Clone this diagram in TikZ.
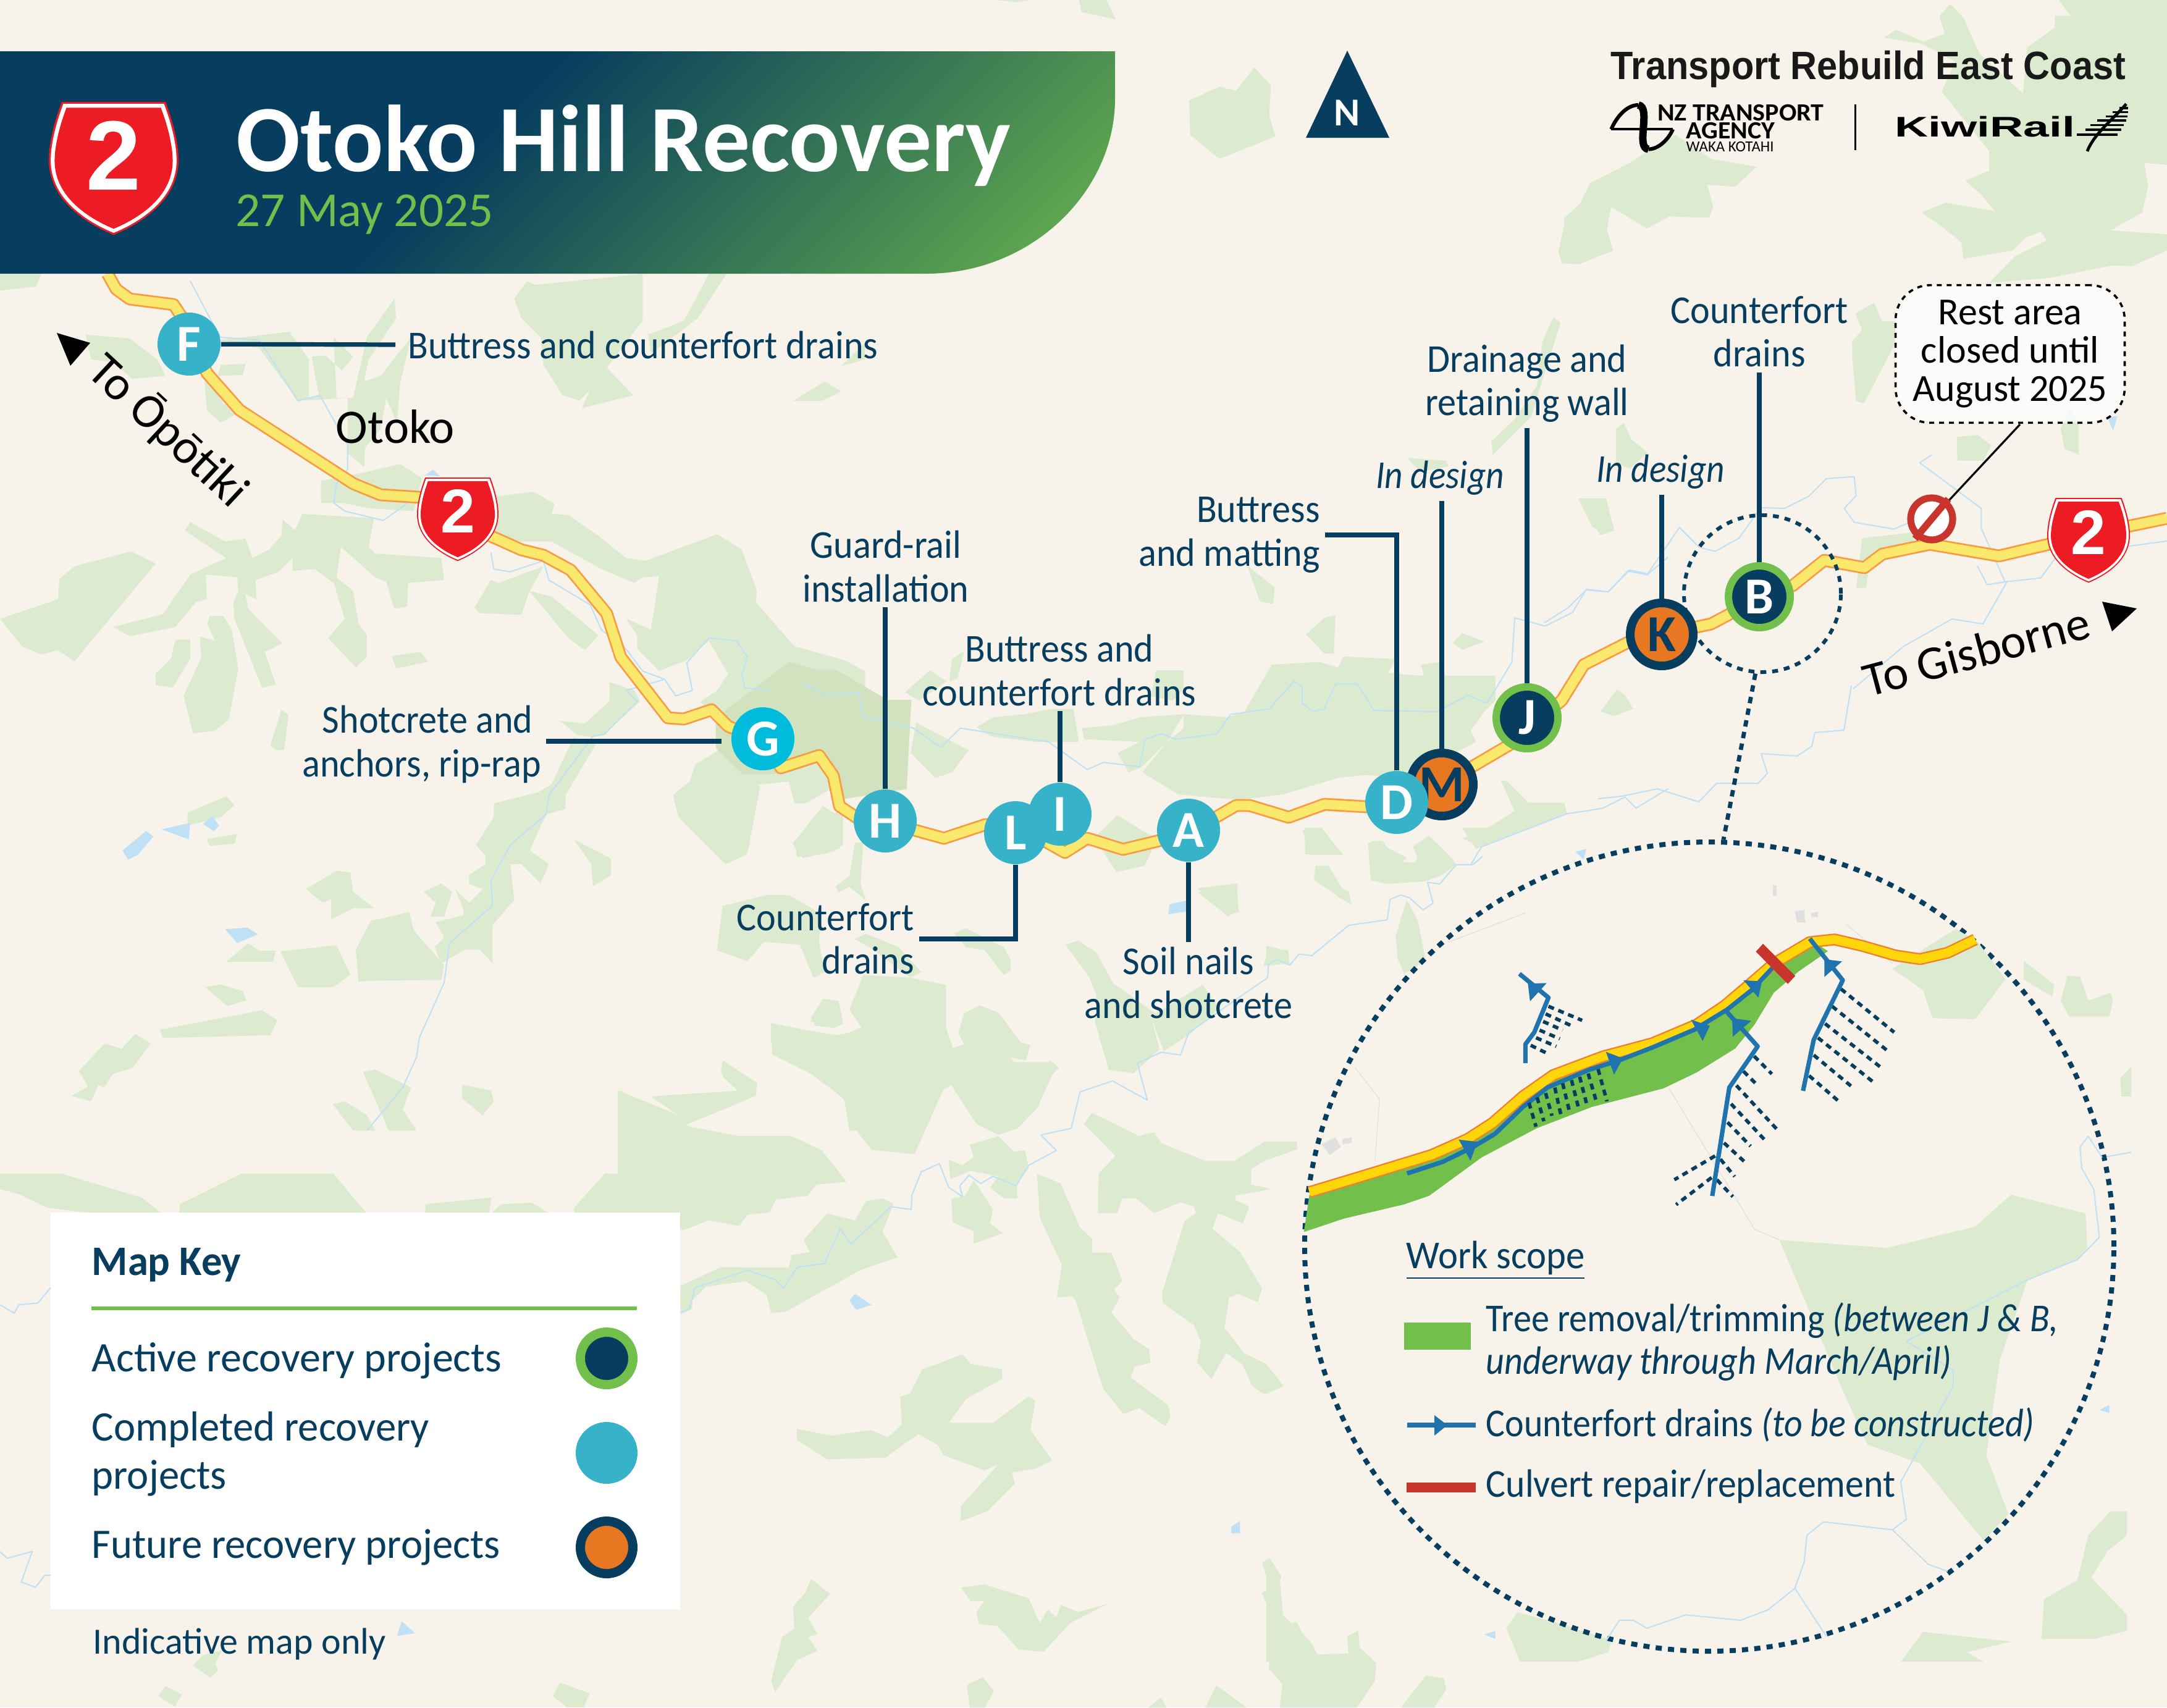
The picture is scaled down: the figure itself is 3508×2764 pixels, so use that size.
\documentclass[tikz,border=0pt]{standalone}
\usepackage{fontspec}
\setmainfont{Carlito}
\newfontfamily\logofont{Liberation Sans}
\usetikzlibrary{positioning}
\definecolor{paper}{HTML}{F7F3EB}
\definecolor{bushgreen}{HTML}{DCEBD0}
\definecolor{bushdark}{HTML}{D2E2BF}
\definecolor{creekblue}{HTML}{BFE0F5}
\definecolor{inknavy}{HTML}{073D5E}
\definecolor{doneteal}{HTML}{36B2C9}
\definecolor{gcyan}{HTML}{00BCDC}
\definecolor{activegreen}{HTML}{72BF4B}
\definecolor{futureorange}{HTML}{E87722}
\definecolor{shieldred}{HTML}{ED1C24}
\definecolor{culvertred}{HTML}{C8352D}
\definecolor{drainblue}{HTML}{1F74AE}
\definecolor{roadedge}{HTML}{F89B45}
\definecolor{roadfill}{HTML}{FBE96E}
\definecolor{insetedge}{HTML}{F07F2E}
\definecolor{insetfill}{HTML}{FFD60A}
\pgfdeclarehorizontalshading{headshade}{100bp}{color(0bp)=(inknavy);color(44.7bp)=(inknavy);color(88.6bp)=(activegreen);color(100bp)=(activegreen)}
\newcommand{\bush}[1]{\fill[bushgreen] plot coordinates {#1} -- cycle;}
\newcommand{\lake}[1]{\fill[creekblue] plot coordinates {#1} -- cycle;}
\newcommand{\creek}[1]{\draw[creekblue,line width=.5pt,line join=round] plot coordinates {#1};}
\newcommand{\shieldpath}{(-80,-100) -- (80,-100) .. controls (95,-60) and (100,-30) .. (100,-10) .. controls (100,48) and (48,85) .. (0,105) .. controls (-48,85) and (-100,48) .. (-100,-10) .. controls (-100,-30) and (-95,-60) .. (-80,-100) -- cycle}
\tikzset{
  viewA/.style={shift={(0,430)},scale=.893},
  viewB/.style={shift={(1000,1364)},scale=.893},
  viewC/.style={shift={(1300,0)},scale=.893},
  viewD/.style={shift={(2500,0)},scale=.643},
  viewE/.style={shift={(400,750)},xscale=1.084,yscale=.606},
  viewF/.style={shift={(0,1900)},xscale=.765,yscale=.551},
  viewG/.style={shift={(2050,1340)},xscale=.893,yscale=.861},
  viewH/.style={shift={(2300,1450)},xscale=.574,yscale=.351},
  viewL/.style={shift={(2600,150)},xscale=.5485,yscale=.333},
  shieldsign/.pic={
    \fill[shieldred] \shieldpath;
    \fill[white,scale=.97] \shieldpath;
    \fill[shieldred,scale=.91] \shieldpath;
    \node[transform shape,text=white,font=\logofont\bfseries\fontsize{38}{38}\selectfont] (-num) at (0,-17) {2};
  },
  stop/.style={circle,inner sep=0pt,font=\bfseries\fontsize{21}{21}\selectfont},
  stopdone/.style={stop,fill=doneteal,minimum size=25.5pt,text=white},
  stopactive/.style={stop,fill=inknavy,draw=activegreen,line width=3pt,minimum size=25pt,text=white},
  stopfuture/.style={stop,fill=futureorange,draw=inknavy,line width=3.5pt,minimum size=25.5pt,text=inknavy},
  maplabel/.style={text=inknavy,font=\fontsize{16}{17.6}\selectfont,align=center,inner sep=2pt,xscale=.94},
  placelabel/.style={text=black,font=\fontsize{19.5}{21}\selectfont,inner sep=0pt},
  leader/.style={draw=inknavy,line width=1.8pt},
  keytext/.style={text=inknavy,font=\fontsize{17}{19.5}\selectfont,align=left,anchor=west,inner sep=0pt,xscale=.98},
  scopetext/.style={text=inknavy,font=\fontsize{16}{17.2}\selectfont,align=left,anchor=west,inner sep=0pt,xscale=.92},
  keydot/.style={circle,inner sep=0pt},
  drain/.style={draw=drainblue,line width=1.8pt,line join=round},
  hatch/.style={draw=inknavy,line width=1.4pt,dash pattern=on 2.4pt off 1.9pt},
  road/.style={draw=roadedge,double=roadfill,double distance=3.8pt,line width=.7pt,line join=round},
  insetroad/.style={draw=insetedge,double=insetfill,double distance=3.6pt,line width=.6pt,line join=round}
}
\begin{document}
\begin{tikzpicture}[x=.25pt,y=-.25pt]
\useasboundingbox (0,0) rectangle (3508,2764);
\fill[paper] (0,0) rectangle (3508,2764);

% bush cover, left and centre
\begin{scope}[viewA]
\bush{(0,640) (105,605) (108,568) (135,545) (238,518) (282,540) (135,717) (105,697) (75,705) (40,690)}
\bush{(335,480) (345,465) (408,500) (445,495) (458,530) (487,515) (510,490) (512,460) (535,480) (548,450) (678,458) (668,510) (680,522) (800,530) (805,570) (740,575) (738,618) (715,622) (700,573) (680,565) (618,510) (610,565) (640,590) (650,650) (665,670) (665,710) (645,728) (595,675) (625,640) (605,575) (570,550) (530,553) (530,530) (505,555) (463,570) (465,605) (445,595) (450,622) (512,685) (480,700) (500,760) (475,765) (425,640) (423,610) (432,590) (430,565) (373,560) (375,605) (355,610) (318,655) (235,672) (205,655) (295,632) (345,560) (410,530)}
\bush{(380,635) (405,635) (420,660) (432,730) (415,822) (390,843) (350,848) (333,780) (365,710) (362,672) (390,680) (376,650)}
\bush{(318,678) (345,678) (345,712) (313,765) (282,760) (282,740) (310,712)}
\bush{(710,708) (762,700) (776,718) (718,730)}
\bush{(0,15) (75,15) (65,38) (0,45)}
\bush{(155,125) (235,132) (285,170) (300,200) (240,205) (205,175) (165,170)}
\bush{(400,180) (445,178) (440,198) (395,200)}
\bush{(370,200) (405,250) (435,265) (400,285) (375,262)}
\bush{(395,135) (525,120) (560,170) (560,240) (578,235) (565,165) (590,163) (620,190) (640,165) (605,130) (610,240) (640,240) (665,130) (715,60) (718,95) (668,170) (660,210) (690,200) (745,130) (725,215) (720,285) (700,240) (690,295) (662,330) (660,365) (630,340) (630,240) (540,245) (470,150)}
\bush{(932,60) (955,28) (970,35) (1165,15) (1165,100) (1100,185) (1148,235) (1055,258) (1070,225) (1050,245) (1020,235) (985,180) (980,130) (945,95)}
\bush{(1175,125) (1240,100) (1285,15) (1317,15) (1265,95) (1180,160)}
\bush{(1438,245) (1495,210) (1525,228) (1490,245)}
\bush{(1525,182) (1568,140) (1568,170)}
\bush{(885,420) (968,410) (1005,432) (1000,450) (1030,452) (1085,490) (1135,530) (1170,535) (1300,487) (1345,515) (1372,590) (1370,610) (1440,690) (1530,715) (1568,735) (1568,960) (1520,940) (1460,975) (1440,975) (1430,935) (1340,945) (1290,955) (1260,905) (1300,880) (1310,840) (1270,790) (1300,770) (1320,740) (1285,680) (1245,715) (1195,735) (1155,695) (1155,670) (1135,640) (1180,660) (1195,563) (1165,565) (1150,575) (1090,550) (1000,500) (950,500) (905,500) (885,470)}
\bush{(582,390) (610,385) (660,375) (725,360) (765,385) (750,445) (670,440) (620,430) (582,430)}
\bush{(960,590) (1000,600) (1085,670) (1060,697) (1030,675)}
\bush{(860,620) (890,570) (905,575) (985,545) (960,590) (945,633) (870,630)}
\bush{(1105,755) (1150,770) (1160,790) (1095,850) (1075,855) (1045,850) (1015,825) (1060,830) (1105,790)}
\bush{(1000,940) (1040,855) (1080,868) (1025,960) (1025,985) (990,995) (960,1060) (995,1085) (980,1120) (945,1085) (925,1085) (932,1150) (893,1195) (893,1265) (870,1240) (842,1240) (800,1265) (788,1235) (805,1218) (790,1190) (840,1178) (840,1165) (825,1130) (850,1155) (875,1130) (850,1120) (850,1105) (880,1085) (880,1070) (863,1050) (895,1000) (895,975) (975,955)}
\bush{(340,992) (410,962) (425,978) (400,1000) (340,1015)}
\bush{(375,1040) (430,1030) (425,1048) (380,1052)}
\bush{(490,870) (510,805) (523,815) (515,878) (500,878)}
\bush{(555,1130) (610,1097) (635,1100) (640,1135) (678,1165) (640,1165) (600,1185) (600,1148) (585,1155)}
\bush{(768,1135) (800,1120) (820,1135) (805,1180) (780,1180) (790,1155)}
\bush{(1040,1040) (1108,1075) (1108,1105) (1075,1125) (1072,1085)}
\bush{(410,1262) (450,1228) (470,1242) (500,1242) (495,1262)}
\bush{(508,1243) (610,1232) (635,1285) (605,1308) (540,1308)}
\bush{(645,1240) (672,1188) (742,1172) (750,1205) (805,1268) (800,1295) (680,1296) (650,1298)}
\bush{(372,1308) (400,1303) (440,1315) (447,1332) (412,1342)}
\bush{(290,1385) (475,1350) (503,1368) (490,1395) (295,1400)}
\bush{(143,1460) (190,1410) (220,1420) (245,1393) (273,1410) (240,1455) (205,1465) (188,1490) (178,1485) (165,1515) (130,1505) (160,1488)}
\bush{(603,1520) (625,1515) (665,1540) (680,1568) (640,1568)}
\bush{(658,1462) (680,1457) (745,1490) (730,1530) (755,1568) (705,1568)}
\bush{(838,1485) (890,1495) (895,1515) (875,1540) (838,1510)}
\bush{(1120,1568) (1125,1497) (1230,1540) (1340,1498) (1310,1470) (1312,1442) (1372,1485) (1370,1505) (1250,1555) (1200,1568)}
\bush{(1398,1375) (1518,1395) (1568,1385) (1568,1568) (1540,1568) (1530,1510) (1470,1465) (1400,1430)}
\bush{(1470,1370) (1490,1332) (1520,1335) (1528,1375) (1510,1382)}
\bush{(1220,960) (1250,935) (1260,905) (1315,875) (1325,905) (1378,945) (1355,1065) (1315,1085) (1230,1000)}
\bush{(1440,1045) (1500,1000) (1528,985) (1528,1050) (1500,1065) (1445,1072)}
\lake{(222,1060) (265,1025) (278,1035) (250,1068) (232,1077)}
\lake{(293,1022) (345,1010) (342,1040)}
\lake{(368,1012) (385,998) (397,1015) (388,1025)}
\lake{(408,1203) (448,1200) (468,1212) (430,1228)}
\lake{(770,380) (785,370) (798,382)}
\end{scope}
\begin{scope}[viewB]
\bush{(60,460) (215,450) (218,440) (187,418) (190,395) (252,435) (250,450) (130,508)}
\bush{(0,450) (5,450) (130,515) (220,532) (315,532) (370,558) (415,615) (360,620) (345,640) (287,647) (275,670) (235,675) (220,695) (165,685) (120,702) (113,702) (113,672) (0,672)}
\bush{(278,327) (400,352) (442,335) (420,303) (445,240) (530,245) (595,258) (595,335) (608,373) (628,365) (617,345) (628,310) (655,295) (690,308) (730,362) (748,367) (740,395) (712,390) (718,398) (780,398) (785,395) (800,408) (788,420) (760,482) (725,518) (690,530) (650,510) (605,440) (590,448) (538,565) (460,557) (420,505) (415,470) (350,412) (290,385) (278,362)}
\bush{(350,318) (372,283) (400,287) (408,322) (388,335) (358,332)}
\bush{(812,185) (835,178) (868,200) (898,255) (975,310) (1060,258) (1090,300) (1040,345) (990,378) (968,320) (982,375) (935,418) (890,412) (865,325) (868,278) (855,245)}
\bush{(1052,90) (1125,75) (1115,100) (1128,125) (1105,133)}
\bush{(845,510) (860,490) (945,532) (972,525) (985,545) (1065,577) (1118,577) (1173,542) (1230,542) (1232,555) (1195,562) (1148,592) (1148,620) (1185,628) (1120,640) (1120,648) (1145,660) (1133,690) (1088,672) (1078,700) (1128,742) (1168,808) (1160,833) (1125,818) (1108,825) (1100,880) (1135,925) (1175,945) (1207,985) (1172,1000) (1150,985) (1132,945) (1103,925) (1076,972) (1050,942) (1057,905) (1045,875) (988,835) (987,815) (1028,685) (1048,672) (1045,660) (1020,652) (972,672) (940,645) (915,645) (905,672) (870,672) (872,600) (902,568)}
\bush{(760,600) (803,618) (838,698) (860,718) (860,743) (895,743) (915,795) (900,810) (910,825) (895,852) (935,900) (963,918) (966,943) (937,950) (930,970) (998,1020) (1002,1040) (993,1058) (945,1025) (917,1036) (880,990) (830,830) (823,822) (796,825) (805,765) (765,680)}
\bush{(325,1063) (388,1075) (458,1065) (490,1078) (515,1055) (512,1005) (530,998) (552,955) (625,928) (640,945) (697,955) (697,972) (632,1008) (600,1052) (680,1052) (745,1004) (757,1012) (748,1065) (788,1120) (757,1135) (715,1142) (720,1162) (670,1212) (622,1230) (622,1203) (690,1127) (665,1138) (590,1110) (580,1092) (545,1072) (485,1115) (380,1118) (325,1083)}
\bush{(115,805) (190,770) (310,770) (315,748) (348,742) (337,720) (380,672) (430,685) (450,650) (480,645) (500,655) (480,705) (507,752) (440,775) (305,850) (278,853) (270,820) (232,795) (160,805) (135,830) (135,845) (115,855)}
\bush{(600,575) (625,585) (645,570) (638,548) (690,532) (718,560) (738,558) (745,590) (723,620) (725,645) (700,645) (675,625) (690,605) (640,595) (603,610)}
\bush{(605,645) (630,640) (645,612) (680,665) (675,690) (698,708) (645,727) (645,705) (607,688)}
\bush{(1360,0) (1390,0) (1392,20) (1412,38) (1445,38) (1465,15) (1450,0) (1485,0) (1520,40) (1492,60) (1465,70) (1395,75) (1365,68)}
\bush{(1265,42) (1285,42) (1305,80) (1325,88) (1330,113) (1262,68)}
\bush{(1410,170) (1430,105) (1450,140) (1465,215) (1430,235) (1415,215)}
\bush{(1180,192) (1215,195) (1218,220) (1190,210) (1170,225)}
\bush{(160,0) (240,0) (232,22) (198,38)}
\bush{(320,0) (400,0) (395,15) (335,28)}
\bush{(1245,0) (1275,0) (1315,22) (1255,22)}
\bush{(395,80) (420,60) (430,0) (445,0) (440,75) (450,105) (420,80) (400,90)}
\bush{(180,195) (190,115) (270,95) (310,95) (370,130) (365,180) (375,235) (355,245) (330,185) (265,180) (235,215)}
\bush{(610,165) (630,155) (700,190) (712,212) (712,232) (700,240) (665,195) (632,190)}
\bush{(430,175) (450,165) (510,190) (550,235) (530,245) (465,195)}
\bush{(622,1350) (665,1345) (745,1370) (765,1415) (780,1390) (795,1405) (803,1382) (835,1395) (888,1380) (820,1415) (772,1467) (727,1463) (688,1420) (655,1417) (650,1395) (665,1375) (640,1375)}
\bush{(318,1385) (340,1360) (350,1335) (385,1362) (345,1405) (362,1435) (345,1440) (362,1465) (325,1482) (285,1540) (278,1520) (298,1440) (320,1425)}
\bush{(633,1527) (662,1513) (682,1538) (665,1568) (638,1568)}
\bush{(1168,1305) (1182,1297) (1203,1330) (1195,1355) (1195,1395) (1215,1420) (1230,1412) (1262,1472) (1325,1470) (1322,1440) (1342,1428) (1345,1460) (1375,1487) (1372,1520) (1340,1568) (1200,1568) (1205,1525) (1180,1497) (1190,1415) (1168,1360) (1182,1352)}
\bush{(1420,1568) (1465,1510) (1497,1515) (1502,1535) (1480,1568)}
\bush{(1065,1568) (1085,1528) (1140,1568)}
\bush{(962,1568) (985,1550) (995,1568)}
\lake{(1000,112) (1032,105) (1030,125) (998,130)}
\lake{(420,830) (430,818) (460,838) (432,847)}
\lake{(1112,1240) (1128,1230) (1128,1252) (1112,1252)}
\end{scope}

% bush cover, top and right
\begin{scope}[viewC]
\bush{(500,0) (550,0) (567,35) (505,22)}
\bush{(350,0) (410,0) (385,4)}
\bush{(700,182) (755,157) (785,165) (818,122) (848,155) (845,210) (856,247) (755,288) (702,245)}
\bush{(1378,470) (1380,395) (1420,360) (1430,330) (1510,290) (1568,255) (1568,390) (1530,412) (1465,375) (1455,420) (1468,455) (1410,475)}
\bush{(1340,620) (1360,575) (1373,585) (1340,690) (1320,755) (1250,825) (1248,800) (1290,760) (1330,700)}
\bush{(1408,905) (1455,905) (1470,962) (1445,970)}
\bush{(1095,830) (1165,835) (1170,845) (1120,855)}
\bush{(805,1025) (855,1065) (852,1095) (828,1090)}
\bush{(1445,1290) (1475,1250) (1490,1260) (1505,1285) (1470,1298)}
\bush{(770,1300) (800,1290) (850,1205) (935,1200) (970,1210) (980,1190) (1075,1195) (1060,1220) (1120,1225) (1255,1225) (1255,1270) (1235,1290) (1210,1325) (1220,1345) (1095,1410) (1020,1405) (970,1410) (870,1440) (790,1450) (680,1440) (615,1400) (660,1345) (690,1320) (690,1295)}
\bush{(505,1320) (560,1315) (612,1300) (690,1295) (660,1345) (612,1392) (590,1400) (570,1365) (610,1345) (510,1340)}
\bush{(315,1318) (345,1300) (400,1295) (450,1285) (490,1285) (500,1345) (420,1345) (340,1335)}
\bush{(205,1310) (300,1360) (270,1400) (240,1410) (195,1365)}
\bush{(912,1150) (945,1120) (965,1115) (962,1185) (945,1185)}
\bush{(1178,1165) (1195,1148) (1235,1163) (1195,1178)}
\bush{(1120,1205) (1155,1200) (1160,1220) (1130,1240)}
\bush{(265,1235) (270,1195) (292,1180) (280,1230)}
\bush{(185,1255) (230,1215) (260,1235) (210,1270)}
\bush{(640,1215) (690,1215) (690,1250) (670,1270) (630,1262)}
\bush{(905,1505) (935,1505) (980,1550) (920,1550)}
\bush{(1265,1415) (1275,1415) (1315,1455) (1380,1455) (1385,1475) (1230,1535) (1195,1520) (1235,1505) (1290,1470)}
\bush{(1105,1535) (1135,1515) (1180,1560) (1170,1568) (1120,1568)}
\bush{(1032,1525) (1055,1535) (1095,1555) (1080,1568) (1030,1568)}
\end{scope}
\begin{scope}[viewD]
\bush{(35,635) (55,545) (90,512) (115,462) (225,405) (265,375) (330,340) (420,400) (535,420) (480,470) (410,465) (425,520) (415,548) (315,545) (258,575) (167,520) (158,580) (173,630) (88,665) (45,663)}
\bush{(855,95) (885,75) (955,105) (1008,85) (995,40) (1022,10) (1055,45) (1095,135) (1205,235) (1215,120) (1285,70) (1285,40) (1325,40) (1295,0) (1568,0) (1568,415) (1510,410) (1520,470) (1505,535) (1425,580) (1368,520) (1450,445) (1460,380) (1120,380) (1000,230) (1035,155) (950,110)}
\bush{(1120,380) (1120,430) (1060,455) (1100,490) (1150,550) (1210,545) (1010,510) (950,535) (1000,570) (1050,610) (1055,652) (1180,630) (1212,598) (1250,583) (1265,605) (1185,645) (1120,712) (1270,700) (1430,668) (1480,670) (1568,630) (1568,590) (1425,580) (1368,520) (1450,445) (1460,380)}
\bush{(783,790) (830,762) (850,808) (885,810) (880,870) (805,1015) (785,1010) (775,895) (775,860) (800,830)}
\bush{(1038,1100) (1090,1095) (1125,1120) (1105,1160) (1040,1160)}
\bush{(1300,1080) (1320,1030) (1345,1060) (1345,1145) (1310,1130)}
\bush{(85,1255) (155,1255) (175,1330) (150,1345) (120,1325)}
\bush{(180,1080) (200,1065) (218,1105) (260,1140) (215,1180) (180,1165)}
\bush{(800,1355) (930,1340) (930,1375) (820,1410) (810,1480) (785,1480)}
\lake{(1418,1050) (1442,1048) (1432,1085)}
\end{scope}
\begin{scope}[viewE]
\bush{(1265,1000) (1300,940) (1340,985) (1360,1000) (1340,1075) (1298,1092)}
\bush{(815,1015) (860,915) (890,950) (885,1030) (825,1050)}
\bush{(1420,1135) (1478,1122) (1480,1190) (1465,1210)}
\fill[bushdark] plot coordinates {(700,680) (810,530) (850,552) (880,552) (945,620) (955,632) (992,632) (985,870) (880,900) (870,790) (800,830) (740,830) (700,760)} -- cycle;
\end{scope}
\begin{scope}[viewF]
\bush{(0,0) (130,0) (300,70) (340,115) (190,115) (100,100) (40,60) (0,45)}
\bush{(380,90) (510,0) (705,0) (775,115) (380,115)}
\bush{(900,90) (1040,70) (1035,115) (900,115)}
\bush{(1060,90) (1125,85) (1160,115) (1040,115)}
\bush{(1215,100) (1280,0) (1568,0) (1568,150) (1500,135) (1445,165) (1440,115) (1215,115)}
\bush{(1440,330) (1525,275) (1568,275) (1568,320) (1505,320) (1470,345) (1440,410)}
\bush{(408,1445) (430,1415) (470,1400) (455,1440) (462,1460) (445,1480)}
\bush{(335,1535) (350,1505) (385,1530) (370,1565)}
\bush{(1170,1535) (1185,1495) (1248,1527) (1235,1568) (1200,1568)}
\lake{(840,1358) (850,1315) (878,1350)}
\creek{(0,385) (30,410) (40,385) (80,380) (107,335)}
\creek{(0,1110) (15,1130) (68,1110) (45,1200) (75,1215) (95,1180) (107,1180)}
\end{scope}
\begin{scope}[viewG]
\bush{(1373,250) (1428,295) (1425,318) (1373,285)}
\bush{(1440,325) (1452,278) (1475,280) (1490,325) (1530,310) (1535,325) (1528,355) (1455,355)}
\bush{(1548,470) (1568,450) (1568,505) (1550,505)}
\bush{(1405,1525) (1410,1450) (1470,1415) (1490,1330) (1530,1285) (1560,1285) (1560,1330) (1525,1360) (1495,1410) (1560,1480) (1560,1510) (1500,1525)}
\bush{(1150,1568) (1190,1512) (1350,1530) (1270,1550) (1300,1568)}
\bush{(435,1505) (455,1475) (600,1515) (625,1530) (620,1550) (565,1568) (460,1568)}
\bush{(280,1320) (385,1370) (388,1400) (350,1390)}
\bush{(0,1010) (30,1050) (0,1065)}
\bush{(0,1375) (25,1420) (30,1480) (80,1530) (100,1568) (0,1568)}
\bush{(190,25) (210,25) (240,65) (270,65) (295,15) (345,70) (290,95) (190,100)}
\bush{(70,0) (100,0) (138,50) (70,50)}
\bush{(90,75) (112,70) (155,145) (130,130)}
\bush{(0,625) (0,590) (55,590) (55,605)}
\bush{(235,205) (258,140) (285,245) (250,275) (238,245)}
\bush{(0,222) (40,232) (40,255) (0,260)}
\bush{(355,0) (470,0) (380,40)}
\lake{(395,1517) (415,1510) (415,1525)}
\lake{(1510,1095) (1528,1085) (1528,1100)}
\lake{(560,45) (580,40) (575,60)}
\creek{(1515,620) (1568,610)}
\end{scope}

% creeks
\begin{scope}[viewA]
\creek{(345,28) (375,85) (400,130) (470,135) (540,245) (580,235) (630,325) (630,370) (610,395) (605,430) (625,445) (695,462) (760,415)}
\creek{(890,520) (895,550) (925,555) (985,535) (995,570) (1070,615) (1090,660) (1135,695) (1165,735) (1205,750) (1225,780) (1255,770) (1245,720) (1285,675) (1335,680) (1355,710) (1345,740) (1350,765) (1395,770)}
\creek{(1205,750) (1135,770) (1155,790) (1095,850) (1075,853) (995,960) (990,995) (925,1050) (890,1115) (893,1160) (815,1228) (805,1300) (760,1400) (755,1435) (730,1490) (665,1568)}
\end{scope}
\begin{scope}[viewB]
\creek{(115,852) (130,845) (140,807) (235,775) (285,792) (300,808) (325,770) (375,763) (403,700) (423,728) (495,660) (532,665) (533,640) (550,597) (583,582) (600,625) (625,642) (620,622) (637,603) (658,618) (680,605) (722,622) (745,585) (795,558) (767,530) (822,518) (838,452) (897,432) (960,467) (942,400) (985,380) (1020,385) (1035,345) (1120,285) (1178,245) (1180,220) (1195,212) (1218,222) (1235,202) (1258,205) (1325,150) (1395,140) (1400,103) (1420,95) (1435,100) (1460,122) (1478,110) (1468,72) (1490,75) (1520,40) (1550,40) (1568,25)}
\end{scope}
\begin{scope}[viewC]
\creek{(0,1240) (40,1260) (100,1255) (110,1300) (200,1320) (250,1355) (285,1320) (445,1345) (515,1395) (545,1382) (610,1390) (620,1340) (650,1330) (675,1340) (750,1330) (775,1295) (845,1285) (890,1235) (905,1245) (905,1275) (925,1290) (945,1285) (965,1240) (1005,1240) (1035,1288) (1150,1290) (1205,1260) (1240,1275) (1285,1200) (1290,1120) (1345,1135) (1395,1110) (1420,1068) (1460,1073) (1495,1035) (1530,1042) (1568,1010)}
\creek{(1210,1568) (1230,1535) (1385,1475) (1420,1470) (1450,1465) (1490,1445) (1510,1465) (1568,1430)}
\end{scope}
\begin{scope}[viewD]
\creek{(0,1568) (60,1530) (105,1485) (160,1490) (215,1435) (260,1445) (340,1328) (390,1378) (430,1388) (490,1355) (545,1278) (605,1280) (665,1250) (710,1205) (780,1200) (785,1248) (755,1280) (780,1315) (880,1332) (920,1315)}
\creek{(975,1145) (945,1165) (1100,1280) (1100,1330) (1160,1465) (1115,1472) (1090,1425)}
\creek{(1160,1465) (1250,1455) (1290,1400)}
\creek{(1290,1400) (1568,1362)}
\end{scope}
\draw[creekblue,line width=.5pt] (3000,1115) -- (3082,1046) -- (3160,1002) -- (3210,1010) -- (3250,940);
\draw[creekblue,line width=.5pt] (2997,1110) -- (2985,1182) -- (2938,1186) -- (2933,1208) -- (2909,1224) -- (2851,1220) -- (2861,1252) -- (2846,1268) -- (2779,1268) -- (2750,1298) -- (2683,1277) -- (2625,1289) -- (2587,1293);

% road through the map
\draw[road] (174,443) -- (188,468) -- (210,484) -- (281,493) -- (304,528) -- (335,604) -- (388,664) -- (572,783) -- (616,801) -- (679,805) -- (795,868) -- (844,890) -- (880,899) -- (924,923) -- (982,993) -- (1005,1064) -- (1081,1162) -- (1107,1164) -- (1152,1149) -- (1179,1176) -- (1237,1198) -- (1264,1243) -- (1326,1223) -- (1349,1256) -- (1359,1305) -- (1398,1331) -- (1434,1331) -- (1528,1357) -- (1595,1335) -- (1644,1335) -- (1724,1380) -- (1760,1357) -- (1818,1375) -- (1872,1362) -- (1925,1348) -- (2001,1304) -- (2023,1304) -- (2086,1323) -- (2144,1302) -- (2211,1306) -- (2264,1299) -- (2334,1270) -- (2443,1206) -- (2472,1179) -- (2528,1134) -- (2564,1076) -- (2635,1040) -- (2691,1027) -- (2770,1010) -- (2849,968) -- (2902,948) -- (2953,907) -- (3018,919) -- (3047,897) -- (3124,881) -- (3236,900) -- (3317,881) -- (3381,868) -- (3445,852) -- (3508,839);

% header banner
\shade[shading=headshade,shading angle=-45] (0,83) -- (1805,83) -- (1805,160) .. controls (1805,310) and (1670,443) .. (1500,443) -- (0,443) -- cycle;
\pic[scale=1.05] (shieldTop) at (184,270) {shieldsign};
\node[text=white,font=\bfseries\fontsize{38.4}{38.4}\selectfont,anchor=west,inner sep=0pt] (title) at (382,236) {Otoko Hill Recovery};
\node[text=activegreen,font=\fontsize{19.8}{19.8}\selectfont,anchor=west,inner sep=0pt] (date) at (381,347) {27 May 2025};

% north arrow and credits
\fill[inknavy] (2181,82) -- (2249,223) -- (2114,223) -- cycle;
\node[text=white,font=\bfseries\fontsize{16}{16}\selectfont,inner sep=0pt] (north) at (2181,183) {N};
\node[text=black!90,font=\logofont\bfseries\fontsize{16}{16}\selectfont,anchor=east,inner sep=0pt,xscale=.93] (credit) at (3442,112) {Transport Rebuild East Coast};
\begin{scope}[viewL]
\draw[black,line width=.9pt] (15,178) -- (197,178);
\draw[black,line width=1.5pt] (15,178) .. controls (30,120) and (60,60) .. (95,60);
\draw[black,line width=3pt] (95,60) .. controls (135,70) and (85,270) .. (125,275);
\draw[black,line width=1.5pt] (125,275) .. controls (155,275) and (185,225) .. (197,178);
\node[anchor=west,inner sep=0pt,font=\bfseries\fontsize{10}{10}\selectfont,xscale=1.05] (ntaA) at (150,97) {NZ TRANSPORT};
\node[anchor=west,inner sep=0pt,font=\bfseries\fontsize{10}{10}\selectfont,xscale=1.05] (ntaB) at (235,185) {AGENCY};
\node[anchor=west,inner sep=0pt,font=\fontsize{6.2}{6.2}\selectfont] (ntaC) at (235,262) {WAKA KOTAHI};
\coordinate (splitA) at (735,58);
\coordinate (splitB) at (735,278);
\draw[black,line width=.7pt] (splitA) -- (splitB);
\node[anchor=west,inner sep=0pt,font=\logofont\bfseries\fontsize{11.5}{11.5}\selectfont,xscale=1.63] (kiwi) at (850,165) {KiwiRail};
\draw[black,line width=1.2pt] (1420,285) .. controls (1440,200) and (1490,140) .. (1535,55);
\foreach \ya/\xa/\xb in {205/1390/1510,180/1415/1520,158/1430/1528,135/1450/1535,115/1475/1538,95/1495/1540,75/1515/1540}
  \draw[black,line width=.9pt] (\xa,\ya) -- (\xb,\ya);
\end{scope}

% callouts on the map
\node[circle,minimum size=63.5pt,inner sep=0pt,draw=inknavy,line width=1.5pt,dash pattern=on 2.4pt off 2.4pt] (focus) at (2853,961) {};
\node[stopdone] (mF) at (306,557) {F};
\node[stop,fill=gcyan,minimum size=25.5pt,text=white] (mG) at (1235,1196) {G};
\node[stopdone] (mH) at (1433,1329) {H};
\node[stopdone] (mI) at (1716,1318) {I};
\node[stopdone] (mL) at (1644,1348) {L};
\node[stopdone] (mA) at (1924,1344) {A};
\node[stopfuture] (mM) at (2334,1270) {M};
\node[stopdone] (mD) at (2261,1299) {D};
\node[stopactive] (mJ) at (2472,1162) {J};
\node[stopfuture] (mK) at (2690,1027) {K};
\node[stopactive] (mB) at (2848,966) {B};

\node[maplabel,anchor=west] (lF) at (652,558) {Buttress and counterfort drains};
\node[maplabel] (lH) at (1434,917) {Guard-rail\\installation};
\node[maplabel] (lI) at (1715,1085) {Buttress and\\counterfort drains};
\node[maplabel,align=right,anchor=east] (lL) at (1488,1520) {Counterfort\\drains};
\node[maplabel] (lA) at (1924,1591) {Soil nails\\and shotcrete};
\node[maplabel,align=right,anchor=east] (lG) at (884,1205) {Shotcrete and\hspace*{3.5pt}\\anchors, rip-rap};
\node[maplabel,align=right,anchor=east] (lD) at (2145,866) {Buttress\\and matting};
\node[maplabel,font=\itshape\fontsize{16}{17.6}\selectfont,xscale=.952] (lM) at (2331,774) {In design};
\node[maplabel] (lJ) at (2472,621) {Drainage and\\retaining wall};
\node[maplabel,font=\itshape\fontsize{16}{17.6}\selectfont,xscale=.952] (lK) at (2688,764) {In design};
\node[maplabel] (lB) at (2848,537) {Counterfort\\drains};

\draw[leader,shorten >=3pt] (mF) -- (lF.west);
\draw[leader] (mH) -- (lH.south -| mH);
\draw[leader] (mI) -- (lI.south -| mI);
\draw[leader] (mL) |- (lL.east);
\draw[leader] (mA) -- (lA.north -| mA);
\draw[leader,shorten >=16.75pt] ([yshift=1.25pt]lG.east) -- ([yshift=1.25pt]lG.east -| mG);
\draw[leader] (lD.east) -| (mD);
\draw[leader] (mM) -- (lM.south -| mM);
\draw[leader] (mJ) -- (lJ.south -| mJ);
\draw[leader] (mK) -- (lK.south -| mK);
\draw[leader] (mB) -- (lB.south -| mB);

\node[placelabel] (otoko) at (640,691) {Otoko};
\node[placelabel,rotate=-43] (toWest) at (272,698) {To Ōpōtiki};
\fill[black] (92,539) -- (146,555) -- (114,592) -- cycle;
\node[placelabel,rotate=15] (toEast) at (3199,1054) {To Gisborne};
\fill[black] (3403,974) -- (3459,985) -- (3419,1022) -- cycle;
\pic[scale=.66] (shieldWest) at (741,839) {shieldsign};
\pic[scale=.67] (shieldEast) at (3381,873) {shieldsign};

% closed rest area
\node[rectangle,rounded corners=14pt,minimum width=92.7pt,minimum height=55.7pt,inner sep=0pt,draw=black,line width=.9pt,dash pattern=on 2pt off 2pt,fill=white,fill opacity=.75,text opacity=1,align=center,font=\fontsize{15.5}{15.5}\selectfont] (rest) at (3254,573) {\vphantom{g}\\[-13pt]Rest area\\closed until\\August 2025};
\coordinate (restfoot) at (3270,687);
\node[circle,minimum size=17pt,inner sep=0pt,draw=culvertred,line width=2.8pt,fill=white,outer sep=2pt] (noEntry) at (3127,840) {};
\draw[culvertred,line width=2.8pt] (noEntry.50) -- (noEntry.230);
\draw[black,line width=.8pt] (noEntry) -- (restfoot);

% inset
\node[circle,minimum size=327.5pt,inner sep=0pt,draw=inknavy,line width=2pt,dash pattern=on 2.5pt off 2.5pt,fill=paper] (inset) at (2767,2018) {};
\draw[inknavy,line width=1.7pt,dash pattern=on 2.6pt off 2.2pt] (focus.265) -- (inset.88);
\begin{scope}[viewG]
\bush{(930,775) (1125,790) (1285,750) (1350,690) (1485,725) (1488,790) (1470,812) (1380,850) (1330,1000) (1305,1180) (1345,1290) (1300,1340) (1185,1195) (1090,1160) (1050,1070)}
\bush{(1135,265) (1250,190) (1290,215) (1340,285) (1285,360) (1208,358) (1190,305)}
\creek{(1515,620) (1490,580) (1475,600) (1478,640) (1500,680) (1510,770) (1470,812) (1380,850) (1160,965) (1245,1020) (1245,1050) (1150,1230) (1160,1300) (1135,1320) (1010,1305) (980,1330) (975,1380) (958,1430) (910,1470) (860,1490) (760,1480) (690,1505) (665,1490) (640,1490) (615,1530)}
\creek{(1135,1320) (1200,1385) (1235,1398)}
\creek{(958,1430) (1015,1520)}
\draw[black!12,line width=.3pt] (160,450) -- (205,510) -- (197,625);
\draw[black!12,line width=.3pt] (470,160) -- (330,215);
\draw[black!12,line width=.3pt] (730,490) -- (885,755) -- (930,775);
\draw[black!12,line width=.3pt] (1050,180) -- (1135,255);
\fill[black!12] (958,157) -- (975,155) -- (977,178) -- (962,178) -- cycle;
\fill[black!12] (988,160) -- (1000,158) -- (1000,168) -- (988,168) -- cycle;
\fill[black!12] (918,108) -- (925,108) -- (925,128) -- (918,128) -- cycle;
\fill[black!12] (100,595) -- (125,582) -- (135,600) -- (115,615) -- cycle;
\fill[black!12] (138,585) -- (155,582) -- (155,592) -- (138,595) -- cycle;
\fill[activegreen] (78,690) -- (190,650) -- (300,615) -- (365,585) -- (465,505) -- (610,430) -- (780,370) -- (920,255) -- (985,210) -- (1018,232) -- (965,270) -- (920,310) -- (885,370) -- (850,415) -- (780,460) -- (720,490) -- (590,525) -- (490,565) -- (390,620) -- (295,692) -- (250,708) -- (140,735) -- (68,760) -- cycle;
\draw[insetroad] (78,685) -- (190,650) -- (300,615) -- (365,585) -- (410,555) -- (465,505) -- (520,465) -- (610,430) -- (700,405) -- (780,370) -- (830,335) -- (870,300) -- (920,255) -- (985,215) -- (1030,210) -- (1080,222) -- (1140,240) -- (1185,247) -- (1235,235) -- (1285,210);
\draw[drain] (255,650) -- (320,628) -- (375,600) -- (415,575) -- (465,525) -- (510,488) -- (585,455) -- (640,437) -- (700,413) -- (775,380) -- (835,342) -- (880,305) -- (925,255);
\end{scope}
\begin{scope}[viewH]
\foreach \xa/\ya/\xb/\yb in {305/955/325/1065,328/930/347/1040,352/910/370/1015,378/885/395/1010,400/865/420/1000,425/850/445/980,448/835/470/975,472/820/497/960,500/800/525/948,
  360/510/455/575,352/545/432/605,345/580/400/620,335/620/392/660,325/655/382/695,310/690/360/730,
  940/740/990/822,910/810/950/875,890/875/1003/1075,875/960/975/1135,865/1045/930/1155,855/1140/915/1230,845/1215/885/1295,835/1310/880/1388,830/1200/715/1310,820/1300/720/1425,
  1185/430/1335/630,1160/510/1320/720,1140/590/1300/795,1120/655/1275/858,1108/735/1215/880,1095/830/1180/950}
  \draw[hatch] (\xa,\ya) -- (\xb,\yb);
\draw[drain] (1097,198) -- (1190,390) -- (1108,665) -- (1078,900);
\draw[drain] (860,530) -- (950,695) -- (870,885) -- (822,1385);
\draw[drain] (278,360) -- (360,470) -- (320,630) -- (295,685) -- (295,772);
\fill[drainblue] (1138,293) -- (1188,303) -- (1138,375) -- cycle;
\fill[drainblue] (878,565) -- (932,577) -- (880,650) -- cycle;
\fill[drainblue] (302,405) -- (355,403) -- (308,487) -- cycle;
\fill[drainblue] (910,390) -- (962,395) -- (952,470) -- cycle;
\fill[drainblue] (762,572) -- (815,600) -- (795,670) -- cycle;
\fill[drainblue] (522,720) -- (570,750) -- (545,825) -- cycle;
\fill[drainblue] (107,1125) -- (160,1135) -- (140,1222) -- cycle;
\fill[culvertred] (965,222) -- (1056,370) -- (1035,407) -- (945,258) -- cycle;
\end{scope}

% inset key
\node[scopetext,xscale=1.03] (scopeTitle) at (2276,2040) {\underline{Work scope}};
\node[fill=activegreen,minimum width=27pt,minimum height=11.2pt,inner sep=0pt] (swTree) at (2327,2163) {};
\node[scopetext,xscale=.989] (txTree) at (2405,2172) {Tree removal/trimming \textit{(between J \& B,}\\\textit{underway through March/April)}};
\coordinate (swDrainA) at (2278,2307);
\coordinate (swDrainB) at (2389,2307);
\draw[drain] (swDrainA) -- (swDrainB);
\fill[drainblue] (2322,2291) -- (2343,2307) -- (2322,2324) -- cycle;
\node[scopetext,xscale=.984] (txDrain) at (2405,2306) {Counterfort drains \textit{(to be constructed)}};
\node[fill=culvertred,minimum width=27.8pt,minimum height=4.2pt,inner sep=0pt] (swCulvert) at (2333,2408) {};
\node[scopetext,xscale=1.016] (txCulvert) at (2405,2406) {Culvert repair/replacement};

% map key
\fill[white] (82,1963) rectangle (1101,2605);
\node[keytext,font=\bfseries\fontsize{17}{19}\selectfont] (keyTitle) at (148,2048) {Map Key};
\coordinate (ruleA) at (148,2118);
\coordinate (ruleB) at (1031,2118);
\draw[activegreen,line width=1.4pt] (ruleA) -- (ruleB);
\node[keytext,xscale=1.022] (keyActive) at (148,2203) {Active recovery projects};
\node[keydot,fill=inknavy,draw=activegreen,line width=3.75pt,minimum size=21.25pt] (dotActive) at (982,2199) {};
\node[keytext] (keyDone) at (148,2354) {Completed recovery\\projects};
\node[keydot,fill=doneteal,minimum size=25pt] (dotDone) at (982,2352) {};
\node[keytext] (keyFuture) at (148,2505) {Future recovery projects};
\node[keydot,fill=futureorange,draw=inknavy,line width=3.75pt,minimum size=21.25pt] (dotFuture) at (982,2505) {};
\node[keytext,font=\fontsize{15}{15}\selectfont,xscale=1.02] (keyNote) at (150,2661) {Indicative map only};
\end{tikzpicture}
\end{document}
